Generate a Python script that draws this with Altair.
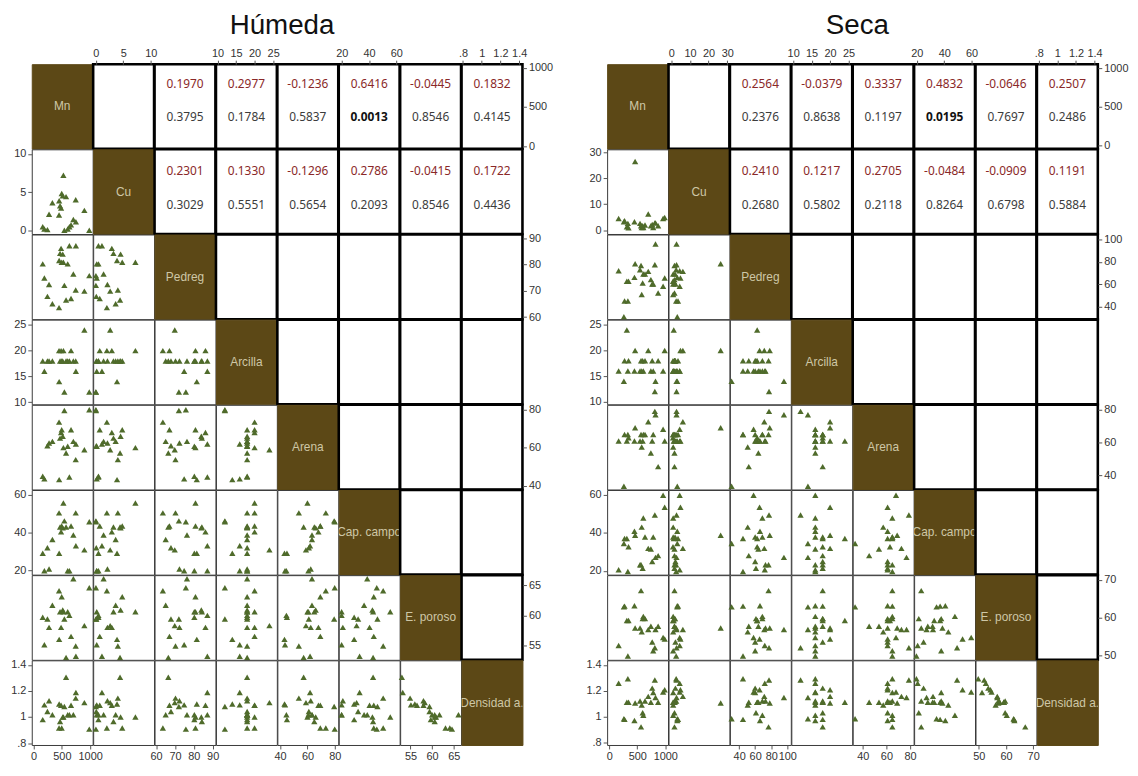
import altair as alt
import pandas as pd

VAR_LABELS = ["Mn", "Cu", "Pedreg", "Arcilla", "Arena", "Cap. campo", "E. poroso", "Densidad a."]
KEYS = ["mn", "cu", "pedreg", "arcilla", "arena", "cap", "ep", "dens"]

# ---------------- Húmeda (22 observations) ----------------
h_mn = [161, 190, 244, 273, 332, 450, 452, 468, 486, 497, 515, 527, 544, 574, 603, 633, 662, 703, 745, 748, 898, 985]
h_cu = [0.46, 0.15, 0.07, 2.1, 3.6, 2.0, 3.85, 3.2, 2.9, 4.8, 4.5, 7.2, 0.0, 4.4, 0.15, 0.46, 0.7, 1.4, 4.0, 1.1, 2.6, 0.0]
h_pedreg = [80.3, 74.9, 67.9, 72.4, 65.1, 63.6, 81.6, 84.3, 86.2, 80.9, 84.0, 80.9, 72.1, 66.5, 80.3, 87.2, 67.1, 76.4, 70.3, 87.2, 69.9, 75.8]
h_arcilla = [18, 16, 18, 18, 18, 20, 14, 18, 20, 18, 18, 20, 12, 18, 18, 18, 20, 18, 18, 16, 24, 12]
h_arena = [45.0, 43.6, 61.0, 62.4, 63.3, 73.4, 43.2, 65.0, 68.0, 69.4, 66.0, 60.0, 79.5, 57.2, 60.7, 44.6, 69.4, 63.3, 53.7, 61.9, 58.9, 79.9]
h_cap = [29.1, 19.9, 32.0, 20.8, 36.4, 50.4, 29.1, 43.0, 40.4, 43.5, 42.5, 55.6, 46.2, 43.0, 19.9, 19.9, 43.5, 38.7, 50.4, 33.1, 30.9, 45.7]
h_ep = [59.7, 55.1, 59.4, 58.0, 61.7, 64.1, 56.0, 60.6, 58.0, 63.1, 60.9, 60.6, 59.4, 53.0, 60.6, 60.0, 56.5, 66.1, 54.9, 53.2, 58.3, 64.6]
h_dens = [0.98, 1.093, 1.042, 1.124, 1.017, 0.915, 1.10, 0.966, 1.09, 0.915, 1.0, 1.0, 1.08, 1.305, 1.017, 1.017, 1.09, 1.017, 1.145, 1.188, 1.11, 0.907]

# ---------------- Seca (23 observations) ----------------
s_mn = [166, 260, 272, 313, 331, 343, 449, 461, 549, 567, 579, 596, 608, 638, 696, 743, 767, 785, 814, 826, 873, 962, 990]
s_cu = [4.5, 3.2, 3.6, 1.3, 2.6, 0.9, 3.2, 26.5, 2.6, 1.7, 1.0, 1.7, 1.0, 2.0, 6.2, 1.7, 2.2, 1.0, 2.8, 2.8, 1.7, 4.5, 4.9]
s_pedreg = [72.0, 30.6, 44.8, 62.5, 44.8, 62.5, 66.0, 78.2, 72.9, 76.7, 50.7, 61.0, 69.0, 69.0, 71.4, 64.0, 60.0, 60.0, 77.3, 95.9, 52.0, 58.0, 65.5]
s_arcilla = [16, 14, 18, 24, 16, 18, 16, 20, 16, 18, 16, 18, 16, 18, 20, 16, 18, 16, 12, 14, 18, 16, 20]
s_arena = [61.0, 33.5, 65.0, 61.0, 65.0, 63.0, 61.0, 69.1, 61.0, 65.0, 57.3, 61.0, 65.0, 65.0, 72.7, 53.7, 61.0, 65.0, 79.0, 77.0, 45.4, 68.1, 61.0]
s_cap = [20.6, 34.4, 37.0, 37.0, 19.7, 32.7, 40.8, 38.7, 23.2, 23.2, 43.0, 21.4, 47.8, 37.8, 31.8, 31.5, 24.9, 37.8, 49.4, 27.1, 28.0, 59.7, 53.4]
s_ep = [52.6, 62.8, 63.0, 59.2, 49.8, 59.2, 63.1, 57.2, 57.2, 67.1, 56.2, 59.7, 60.3, 59.7, 56.8, 57.7, 53.5, 51.2, 52.0, 56.8, 57.7, 54.7, 54.3]
s_dens = [1.257, 0.983, 0.978, 1.11, 1.293, 1.11, 0.97, 1.105, 1.12, 0.92, 1.09, 1.03, 1.01, 1.12, 1.156, 1.11, 1.22, 1.186, 1.283, 1.148, 1.11, 1.19, 1.207]

# correlation (r) and p-values shown in the upper triangle, rows Mn and Cu, columns Pedreg..Densidad
h_r_mn = ["0.1970", "0.2977", "-0.1236", "0.6416", "-0.0445", "0.1832"]
h_p_mn = ["0.3795", "0.1784", "0.5837", "0.0013", "0.8546", "0.4145"]
h_r_cu = ["0.2301", "0.1330", "-0.1296", "0.2786", "-0.0415", "0.1722"]
h_p_cu = ["0.3029", "0.5551", "0.5654", "0.2093", "0.8546", "0.4436"]
s_r_mn = ["0.2564", "-0.0379", "0.3337", "0.4832", "-0.0646", "0.2507"]
s_p_mn = ["0.2376", "0.8638", "0.1197", "0.0195", "0.7697", "0.2486"]
s_r_cu = ["0.2410", "0.1217", "0.2705", "-0.0484", "-0.0909", "0.1191"]
s_p_cu = ["0.2680", "0.5802", "0.2118", "0.8264", "0.6798", "0.5884"]

# axis domains and tick labels
h_dom = {"mn": [-33, 1045], "cu": [-0.5, 10.6], "pedreg": [59.2, 91.5], "arcilla": [9.6, 26],
         "arena": [38, 82.5], "cap": [17.8, 62.5], "ep": [52.6, 66.7], "dens": [0.785, 1.435]}
s_dom = {"mn": [-40, 1050], "cu": [-1.5, 31.2], "pedreg": [28.5, 104.5], "arcilla": [9.5, 26],
         "arena": [31.5, 83], "cap": [18, 62.5], "ep": [48.8, 71.2], "dens": [0.78, 1.435]}
h_ticks = {"mn": [0, 500, 1000], "cu": [0, 5, 10], "pedreg": [60, 70, 80, 90], "arcilla": [10, 15, 20, 25],
           "arena": [40, 60, 80], "cap": [20, 40, 60], "ep": [55, 60, 65], "dens": [0.8, 1, 1.2, 1.4]}
s_ticks = {"mn": [0, 500, 1000], "cu": [0, 10, 20, 30], "pedreg": [40, 60, 80, 100], "arcilla": [10, 15, 20, 25],
           "arena": [40, 60, 80], "cap": [20, 40, 60], "ep": [50, 60, 70], "dens": [0.8, 1, 1.2, 1.4]}

CW, CH = 61.5, 85.5
GREEN = "#4F6B2B"
BROWN = "#5C4816"
DIAG_TEXT = "#CEC7A6"
RED = "#8A2828"
FONT = "Liberation Sans"
NUMFONT = "Noto Sans"


def make_axis(orient, key, ticks):
    kw = dict(orient=orient, values=ticks[key], title=None, grid=False, domain=False,
              ticks=True, tickSize=4, tickColor="#555555", tickWidth=1,
              labelColor="#333333", labelFontSize=11, labelFont=FONT,
              labelFlush=False, labelOverlap=False, labelPadding=2)
    if key == "dens":
        kw["format"] = ".1f"
        kw["labelExpr"] = "datum.value == 0.8 ? '.8' : (datum.value == 1 ? '1' : datum.label)"
    else:
        kw["format"] = "d"
    return alt.Axis(**kw)


def make_panel(df, dom, ticks, r_rows, p_rows, title):
    cells = []
    for i in range(8):
        for j in range(8):
            ki, kj = KEYS[i], KEYS[j]
            if i == 0 and j % 2 == 1:
                ax_x = make_axis("top", kj, ticks)
            elif i == 7 and j % 2 == 0:
                ax_x = make_axis("bottom", kj, ticks)
            else:
                ax_x = None
            if j == 0 and i % 2 == 1:
                ax_y = make_axis("left", ki, ticks)
            elif j == 7 and i % 2 == 0:
                ax_y = make_axis("right", ki, ticks)
            else:
                ax_y = None
            op = 1 if i > j else 0
            base = alt.Chart(df).mark_point(
                shape="triangle-up", filled=True, size=40, color=GREEN, opacity=op, strokeWidth=0
            ).encode(
                x=alt.X(f"{kj}:Q", scale=alt.Scale(domain=dom[kj], nice=False, zero=False), axis=ax_x),
                y=alt.Y(f"{ki}:Q", scale=alt.Scale(domain=dom[ki], nice=False, zero=False), axis=ax_y),
            )
            layers = [base]
            if i == j:
                layers.append(
                    alt.Chart(pd.DataFrame({"t": [VAR_LABELS[i]]})).mark_text(
                        font=FONT, fontSize=12, color=DIAG_TEXT, clip=True
                    ).encode(text="t:N", x=alt.value(CW / 2), y=alt.value(CH / 2))
                )
                view = alt.ViewBackground(fill=BROWN, stroke=BROWN, strokeWidth=1)
            elif i > j:
                view = alt.ViewBackground(fill="white", stroke="#3a3a3a", strokeWidth=1)
            else:
                view = alt.ViewBackground(fill="white", stroke="black", strokeWidth=2.6)
                if i < 2 and j >= 2:
                    r = r_rows[i][j - 2]
                    p = p_rows[i][j - 2]
                    sig = float(p) < 0.05
                    ry = 20 if i == 0 else 22
                    py = 53 if i == 0 else 56
                    layers.append(
                        alt.Chart(pd.DataFrame({"t": [r]})).mark_text(
                            font=NUMFONT, fontSize=12, color=RED
                        ).encode(text="t:N", x=alt.value(CW / 2), y=alt.value(ry))
                    )
                    layers.append(
                        alt.Chart(pd.DataFrame({"t": [p]})).mark_text(
                            font=NUMFONT, fontSize=12,
                            color="#111111" if sig else "#3c3c3c",
                            fontWeight="bold" if sig else "normal",
                        ).encode(text="t:N", x=alt.value(CW / 2), y=alt.value(py))
                    )
            cells.append(alt.layer(*layers).properties(width=CW, height=CH, view=view))
    return alt.concat(
        *cells, columns=8, spacing=0, bounds="flush",
        title=alt.Title(title, fontSize=28, font=FONT, fontWeight="normal",
                        color="#111111", anchor="middle", offset=-4, dy=-10),
    )


h_df = pd.DataFrame({"mn": h_mn, "cu": h_cu, "pedreg": h_pedreg, "arcilla": h_arcilla,
                     "arena": h_arena, "cap": h_cap, "ep": h_ep, "dens": h_dens})
s_df = pd.DataFrame({"mn": s_mn, "cu": s_cu, "pedreg": s_pedreg, "arcilla": s_arcilla,
                     "arena": s_arena, "cap": s_cap, "ep": s_ep, "dens": s_dens})

ph = make_panel(h_df, h_dom, h_ticks, [h_r_mn, h_r_cu], [h_p_mn, h_p_cu], "Húmeda")
ps = make_panel(s_df, s_dom, s_ticks, [s_r_mn, s_r_cu], [s_p_mn, s_p_cu], "Seca")

chart = alt.hconcat(ph, ps, spacing=31).properties(
    padding={"left": 2, "top": 0, "right": 0, "bottom": 0}
).configure(background="white").configure_axis(labelColor="#333333", tickColor="#555555")

chart.save("out.html", embed_options={"renderer": "svg", "actions": False})
